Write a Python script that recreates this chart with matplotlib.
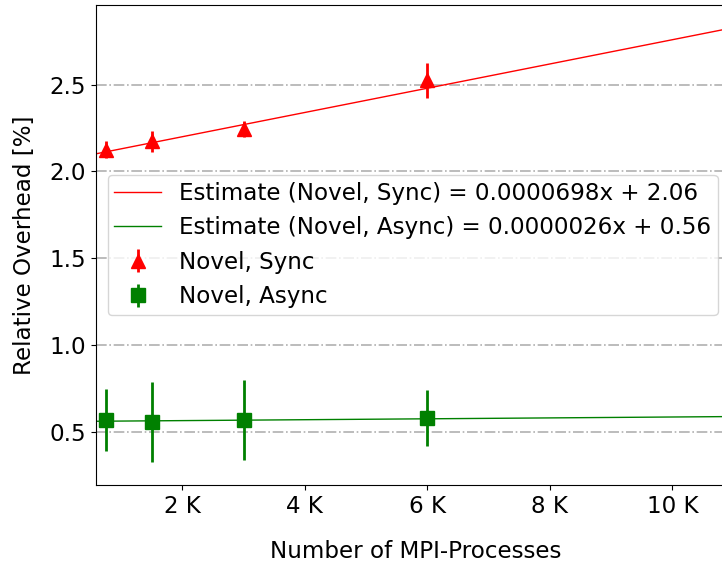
import matplotlib
matplotlib.use("Agg")
import matplotlib.pyplot as plt
from matplotlib.ticker import FuncFormatter, MultipleLocator
import numpy as np

# Data
procs = [750, 1500, 3000, 6000]
sync_vals = [2.125, 2.173, 2.245, 2.524]
sync_err = [0.05, 0.06, 0.045, 0.10]
async_vals = [0.569, 0.558, 0.567, 0.58]
async_err = [0.179, 0.229, 0.23, 0.16]
sync_fit = (0.0000698, 2.06)
async_fit = (0.0000026, 0.56)
fit_range = [0, 12000]

plt.rcParams['font.family'] = ['DejaVu Sans']
plt.rcParams['font.size'] = 16.6

fig = plt.figure(figsize=(7.22, 5.67), dpi=100)
ax = fig.add_axes([96/722, 82/567, 639/722, 480/567])

xs = np.array(fit_range, dtype=float)
ax.plot(xs, sync_fit[0]*xs + sync_fit[1], color='red', lw=1,
        label='Estimate (Novel, Sync) = 0.0000698x + 2.06')
ax.plot(xs, async_fit[0]*xs + async_fit[1], color='green', lw=1,
        label='Estimate (Novel, Async) = 0.0000026x + 0.56')
ax.errorbar(procs, sync_vals, yerr=sync_err, fmt='^', color='red', ms=10,
            elinewidth=2, capsize=0, label='Novel, Sync')
ax.errorbar(procs, async_vals, yerr=async_err, fmt='s', color='green', ms=10,
            elinewidth=2, capsize=0, label='Novel, Async')

ax.set_xlim(591, 11024)
ax.set_ylim(0.1945, 2.958)
ax.yaxis.set_major_locator(MultipleLocator(0.5))
ax.xaxis.set_major_locator(MultipleLocator(2000))
ax.xaxis.set_major_formatter(FuncFormatter(lambda v, p: f"{int(v/1000)} K" if v > 0 else "0"))
ax.grid(axis='y', linestyle='-.', color='#b0b0b0', lw=1.2)
ax.set_axisbelow(True)

ax.set_xlabel('Number of MPI-Processes', labelpad=16)
ax.set_ylabel('Relative Overhead [%]', labelpad=10)
ax.legend(loc='center left', fontsize=16.6, borderpad=0.3)

fig.savefig('out.png', dpi=100)
